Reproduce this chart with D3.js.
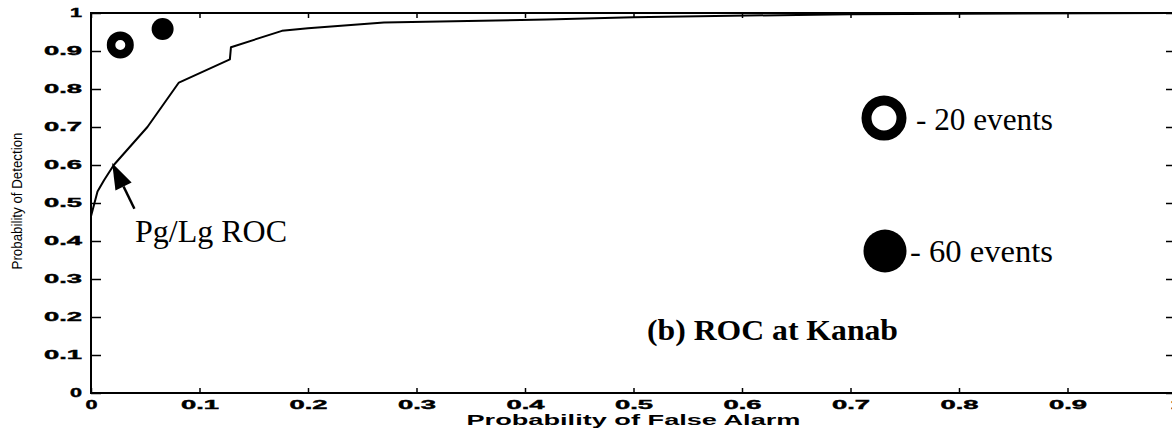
<!DOCTYPE html>
<html>
<head>
<meta charset="utf-8">
<script src="https://cdn.jsdelivr.net/npm/d3@7"></script>
<style>
  html, body { margin: 0; padding: 0; background: #fff; }
  svg { display: block; }
</style>
</head>
<body>
<svg id="chart" width="1172" height="431"></svg>
<script>
// ---- data ----
const rocFalseAlarm = [0, 0.006, 0.012, 0.021, 0.052, 0.081, 0.128, 0.129, 0.176, 0.2, 0.27, 0.42, 0.5, 0.7, 1.0];
const rocDetection  = [0.465, 0.53, 0.56, 0.60, 0.70, 0.817, 0.878, 0.91, 0.953, 0.96, 0.975, 0.983, 0.989, 0.997, 1.0];
const pointLabels = ["20 events", "60 events"];
const pointFalseAlarm = [0.027, 0.066];
const pointDetection  = [0.916, 0.958];
const xTickValues = [0, 0.1, 0.2, 0.3, 0.4, 0.5, 0.6, 0.7, 0.8, 0.9, 1];
const xTickLabels = ["0", "0.1", "0.2", "0.3", "0.4", "0.5", "0.6", "0.7", "0.8", "0.9", "1"];
const yTickValues = [0, 0.1, 0.2, 0.3, 0.4, 0.5, 0.6, 0.7, 0.8, 0.9, 1];
const yTickLabels = ["0", "0.1", "0.2", "0.3", "0.4", "0.5", "0.6", "0.7", "0.8", "0.9", "1"];

// ---- layout ----
const svg = d3.select("#chart");
const L = 91, R = 1176, T = 13, B = 393;
const x = d3.scaleLinear().domain([0, 1]).range([L, R]);
const y = d3.scaleLinear().domain([0, 1]).range([B, T]);

const tickFont = "'Liberation Sans', Arial, sans-serif";
function styleTickText(sel) {
  sel.selectAll("text")
    .attr("font-family", tickFont)
    .attr("font-weight", "bold")
    .attr("font-size", 12)
    .attr("fill", "#000")
    .attr("stroke", "#000").attr("stroke-width", 0.4)
    .attr("lengthAdjust", "spacingAndGlyphs")
    .attr("textLength", function() { return this.textContent.length === 1 ? 12 : 38; });
}

// bottom axis
const gx = svg.append("g").attr("transform", `translate(0,${B})`)
  .call(d3.axisBottom(x).tickValues(xTickValues).tickFormat((d, i) => xTickLabels[i])
    .tickSizeInner(-5).tickSizeOuter(0).tickPadding(7));
gx.select(".domain").remove();
gx.selectAll("line").attr("stroke", "#000").attr("stroke-width", 1.5);
styleTickText(gx);

// top axis
const gt = svg.append("g").attr("transform", `translate(0,${T})`)
  .call(d3.axisTop(x).tickValues(xTickValues).tickFormat("").tickSizeInner(-5).tickSizeOuter(0));
gt.select(".domain").remove();
gt.selectAll("line").attr("stroke", "#000").attr("stroke-width", 1.5);

// left axis
const gy = svg.append("g").attr("transform", `translate(${L},0)`)
  .call(d3.axisLeft(y).tickValues(yTickValues).tickFormat((d, i) => yTickLabels[i])
    .tickSizeInner(-10).tickSizeOuter(0).tickPadding(9));
gy.select(".domain").remove();
gy.selectAll("line").attr("stroke", "#000").attr("stroke-width", 1.5);
styleTickText(gy);

// right axis
const gr = svg.append("g").attr("transform", `translate(${R},0)`)
  .call(d3.axisRight(y).tickValues(yTickValues).tickFormat("").tickSizeInner(-10).tickSizeOuter(0));
gr.select(".domain").remove();
gr.selectAll("line").attr("stroke", "#000").attr("stroke-width", 1.5);

// frame
svg.append("rect")
  .attr("x", L).attr("y", T).attr("width", R - L).attr("height", B - T)
  .attr("fill", "none").attr("stroke", "#000").attr("stroke-width", 2);

// axis titles
svg.append("text")
  .attr("x", (L + R) / 2).attr("y", 425)
  .attr("text-anchor", "middle")
  .attr("font-family", tickFont).attr("font-weight", "bold").attr("font-size", 15)
  .attr("lengthAdjust", "spacingAndGlyphs").attr("textLength", 334)
  .text("Probability of False Alarm");

svg.append("text")
  .attr("transform", "translate(22,201) rotate(-90)")
  .attr("text-anchor", "middle")
  .attr("font-family", tickFont).attr("font-size", 14)
  .attr("lengthAdjust", "spacingAndGlyphs").attr("textLength", 137)
  .text("Probability of Detection");

// ROC curve
const rocData = rocFalseAlarm.map((v, i) => [v, rocDetection[i]]);
svg.append("path")
  .datum(rocData)
  .attr("fill", "none").attr("stroke", "#000").attr("stroke-width", 2)
  .attr("stroke-linejoin", "round")
  .attr("d", d3.line().x(d => x(d[0])).y(d => y(d[1])));

// data points
svg.append("circle")
  .attr("cx", x(pointFalseAlarm[0])).attr("cy", y(pointDetection[0]))
  .attr("r", 9.25).attr("fill", "#fff").attr("stroke", "#000").attr("stroke-width", 8.5);
svg.append("circle")
  .attr("cx", x(pointFalseAlarm[1])).attr("cy", y(pointDetection[1]))
  .attr("r", 11).attr("fill", "#000");

// arrow to curve
const tip = [x(0.0195), y(0.605)];
const tail = [x(0.04), y(0.485)];
const dx = tip[0] - tail[0], dy = tip[1] - tail[1];
const len = Math.hypot(dx, dy);
const ux = dx / len, uy = dy / len;
const headLen = 26, headHalf = 9;
const base = [tip[0] - ux * headLen, tip[1] - uy * headLen];
svg.append("line")
  .attr("x1", tail[0]).attr("y1", tail[1]).attr("x2", base[0]).attr("y2", base[1])
  .attr("stroke", "#000").attr("stroke-width", 2.5);
svg.append("path")
  .attr("d", `M${tip[0]},${tip[1]} L${base[0] - uy * headHalf},${base[1] + ux * headHalf} L${base[0] + uy * headHalf},${base[1] - ux * headHalf} Z`)
  .attr("fill", "#000");

const serif = "'Liberation Serif', 'Times New Roman', serif";
svg.append("text")
  .attr("x", 135).attr("y", 242)
  .attr("font-family", serif).attr("font-size", 31)
  .attr("lengthAdjust", "spacingAndGlyphs").attr("textLength", 152)
  .text("Pg/Lg ROC");

svg.append("text")
  .attr("x", 647).attr("y", 340)
  .attr("font-family", serif).attr("font-size", 30).attr("font-weight", "bold")
  .attr("lengthAdjust", "spacingAndGlyphs").attr("textLength", 251)
  .text("(b) ROC at Kanab");

// legend
svg.append("circle")
  .attr("cx", 884).attr("cy", 118).attr("r", 17.5)
  .attr("fill", "#fff").attr("stroke", "#000").attr("stroke-width", 10);
svg.append("text")
  .attr("x", 916).attr("y", 130)
  .attr("font-family", serif).attr("font-size", 31)
  .attr("lengthAdjust", "spacingAndGlyphs").attr("textLength", 137)
  .text("- " + pointLabels[0]);

svg.append("circle")
  .attr("cx", 885).attr("cy", 251).attr("r", 21.5)
  .attr("fill", "#000");
svg.append("text")
  .attr("x", 910).attr("y", 262)
  .attr("font-family", serif).attr("font-size", 31)
  .attr("lengthAdjust", "spacingAndGlyphs").attr("textLength", 143)
  .text("- " + pointLabels[1]);
</script>
</body>
</html>
